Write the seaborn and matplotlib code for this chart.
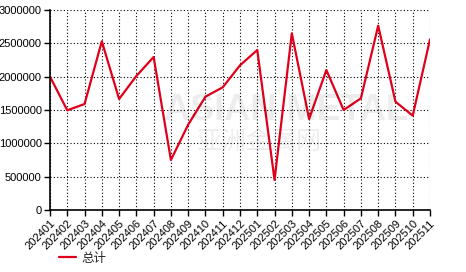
import matplotlib
matplotlib.use("Agg")
import matplotlib.pyplot as plt
import seaborn as sns
import pandas as pd

months = ["202401", "202402", "202403", "202404", "202405", "202406", "202407",
          "202408", "202409", "202410", "202411", "202412", "202501", "202502",
          "202503", "202504", "202505", "202506", "202507", "202508", "202509",
          "202510", "202511"]
values = [2000000, 1495000, 1590000, 2530000, 1665000, 2010000, 2295000,
          750000, 1280000, 1700000, 1840000, 2170000, 2400000, 450000,
          2650000, 1365000, 2100000, 1500000, 1675000, 2765000, 1625000,
          1415000, 2560000]
series_name = "总计"
yticks = [0, 500000, 1000000, 1500000, 2000000, 2500000, 3000000]

sns.set_theme(style="white")
plt.rcParams['font.family'] = ['Liberation Sans', 'Noto Sans CJK SC', 'DejaVu Sans']

df = pd.DataFrame({"month": months, "value": values, "series": series_name})
df["pos"] = range(len(months))

fig = plt.figure(figsize=(4.66, 2.72), dpi=100)
ax = fig.add_axes([50/466, 1-210/272, 380/466, 200/272])

sns.lineplot(data=df, x="pos", y="value", hue="series", palette=["#e0001b"],
             linewidth=1.6, ax=ax, legend=True)

ax.set_xlim(0, len(months) - 1)
ax.set_ylim(0, 3000000)
ax.set_xticks(range(len(months)))
ax.set_xticklabels(months, rotation=45, ha="right", rotation_mode="anchor", fontsize=8)
ax.set_yticks(yticks)
ax.set_yticklabels([str(v) for v in yticks], fontsize=8)
ax.set_xlabel("")
ax.set_ylabel("")

ax.grid(True, color="black", linestyle=(0, (1, 2)), linewidth=0.8)
for s in ["top", "right"]:
    ax.spines[s].set_visible(False)
for s in ["left", "bottom"]:
    ax.spines[s].set_color("black")
    ax.spines[s].set_linewidth(1.2)
ax.tick_params(axis="both", direction="out", length=4, width=1, color="black",
               labelcolor="black", bottom=True, left=True, pad=2)

ax.text(0.62, 0.5, "ASIAN METAL", transform=ax.transAxes, fontsize=26,
        color="#000000", alpha=0.07, ha="center", va="center", fontweight="bold")
ax.text(0.55, 0.34, "亚洲金属网", transform=ax.transAxes, fontsize=18,
        color="#000000", alpha=0.07, ha="center", va="center",
        family=['Noto Sans CJK SC', 'DejaVu Sans'])

handles, labels = ax.get_legend_handles_labels()
ax.legend(handles, labels, loc="lower left", bbox_to_anchor=(-0.005, -0.33),
          frameon=False, handlelength=1.3, handletextpad=0.5,
          prop={'family': ['Noto Sans CJK SC', 'DejaVu Sans'], 'size': 9})

fig.savefig("out.png", dpi=100)
